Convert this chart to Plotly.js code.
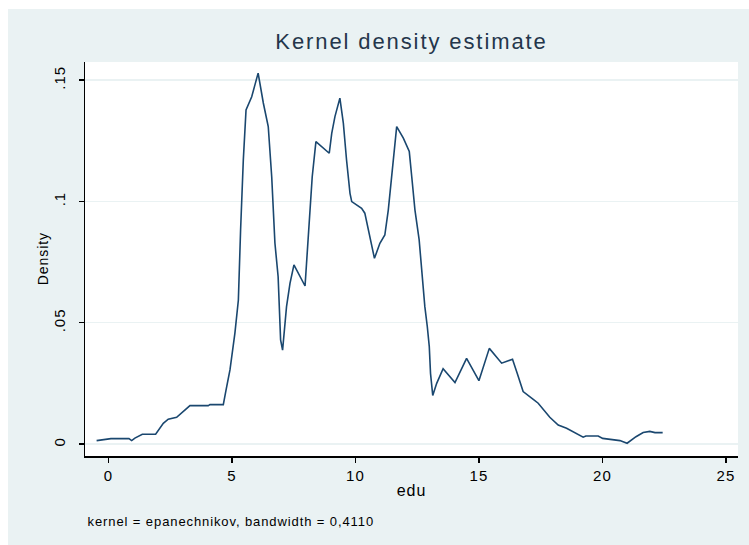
<!DOCTYPE html>
<html><head><meta charset="utf-8">
<script src="https://cdn.plot.ly/plotly-3.0.1.min.js"></script>
<style>
html,body{margin:0;padding:0;background:#fff;width:749px;height:545px;overflow:hidden}
#chart{position:absolute;left:8px;top:9px;width:741px;height:536px}
#chart .gtitle{letter-spacing:1.9px}
#chart .xtick text,#chart .ytick text{letter-spacing:1px}
#chart .xtitle{letter-spacing:1px}
#chart .annotation-text{letter-spacing:0.9px}
</style>
</head><body><div id="chart"></div>
<script>
const eduX = [-0.48,0.10,0.83,0.94,1.07,1.37,1.91,2.22,2.42,2.76,3.30,4.04,4.11,4.65,4.76,4.92,5.12,5.26,5.35,5.46,
  5.57,5.80,6.06,6.27,6.47,6.61,6.74,6.87,6.97,7.05,7.21,7.35,7.51,7.75,7.96,8.02,8.13,8.25,8.40,8.94,
  9.04,9.17,9.37,9.51,9.64,9.78,9.85,10.25,10.38,10.52,10.77,10.99,11.19,11.33,11.47,11.56,11.67,11.94,12.18,12.28,
  12.41,12.58,12.72,12.81,12.91,12.99,13.04,13.13,13.29,13.55,14.03,14.50,15.00,15.42,15.92,16.36,16.55,16.79,17.20,17.40,
  17.87,18.21,18.55,18.89,19.22,19.33,19.83,20.01,20.28,20.71,21.00,21.36,21.65,21.92,22.13,22.44];
const density = [0.0014,0.0022,0.0022,0.0014,0.0024,0.0040,0.0040,0.0085,0.0102,0.0110,0.0158,0.0158,0.0162,0.0162,0.0222,0.0305,0.0457,0.0593,0.0882,0.1170,
  0.1376,0.1431,0.1528,0.1405,0.1308,0.1101,0.0828,0.0689,0.0429,0.0387,0.0566,0.0662,0.0738,0.0690,0.0651,0.0745,0.0923,0.1101,0.1246,0.1198,
  0.1280,0.1349,0.1425,0.1322,0.1170,0.1033,0.0999,0.0971,0.0951,0.0882,0.0765,0.0827,0.0861,0.0964,0.1101,0.1184,0.1308,0.1260,0.1205,0.1101,
  0.0964,0.0841,0.0669,0.0566,0.0483,0.0401,0.0291,0.0200,0.0250,0.0310,0.0253,0.0353,0.0261,0.0394,0.0333,0.0349,0.0291,0.0216,0.0184,0.0168,
  0.0110,0.0078,0.0065,0.0047,0.0028,0.0033,0.0033,0.0023,0.0019,0.0014,0.0003,0.0030,0.0047,0.0052,0.0047,0.0047];
const xTicks = [0,5,10,15,20,25];
const yTicks = [0,0.05,0.1,0.15];
const yTickLabels = ['0','.05','.1','.15'];
const titleText = 'Kernel density estimate';
const yTitleText = 'Density';
const noteText = 'kernel = epanechnikov, bandwidth = 0,4110';

const font = 'Liberation Sans, Arial, sans-serif';
const trace = {x: eduX, y: density, type: 'scatter', mode: 'lines',
  line: {color: '#1a476f', width: 1.6}, hoverinfo: 'skip'};
const layout = {
  width: 741, height: 536,
  paper_bgcolor: '#eaf2f3', plot_bgcolor: '#ffffff',
  margin: {l: 77, r: 11, t: 53, b: 89},
  showlegend: false,
  font: {family: font, color: '#000'},
  title: {text: titleText, font: {family: font, size: 22, color: '#24364b'},
    x: 0.5, xref: 'paper', y: 1 - 32/536, yref: 'container', yanchor: 'middle'},
  xaxis: {range: [-0.95, 25.49], tickvals: xTicks, ticktext: xTicks.map(String),
    ticks: 'outside', ticklen: 5, tickwidth: 1.3, tickcolor: '#000',
    showline: true, linecolor: '#000', linewidth: 1.5, showgrid: false, zeroline: false,
    tickfont: {size: 15, color: '#000'},
    title: {text: 'edu', font: {size: 16, color: '#000'}, standoff: 2}},
  yaxis: {range: [-0.00495, 0.1574], tickvals: yTicks, ticktext: yTickLabels, tickangle: -90,
    ticks: 'outside', ticklen: 5, tickwidth: 1.3, tickcolor: '#000', ticklabelstandoff: 8,
    showline: true, linecolor: '#000', linewidth: 1.5,
    showgrid: true, gridcolor: '#eaf2f3', gridwidth: 1.5, zeroline: false,
    tickfont: {size: 15, color: '#000'}},
  annotations: [
    {text: yTitleText, xref: 'paper', yref: 'paper', x: -0.0643, y: 0.5, textangle: -90,
      xanchor: 'center', yanchor: 'middle', showarrow: false,
      font: {family: font, size: 14, color: '#000'}},
    {text: noteText, xref: 'paper', yref: 'paper', x: 0.0285, y: -0.165,
      xanchor: 'left', yanchor: 'middle', showarrow: false,
      font: {family: font, size: 13, color: '#000'}}]
};
Plotly.newPlot('chart', [trace], layout, {displayModeBar: false, staticPlot: true});
</script>
</body></html>
